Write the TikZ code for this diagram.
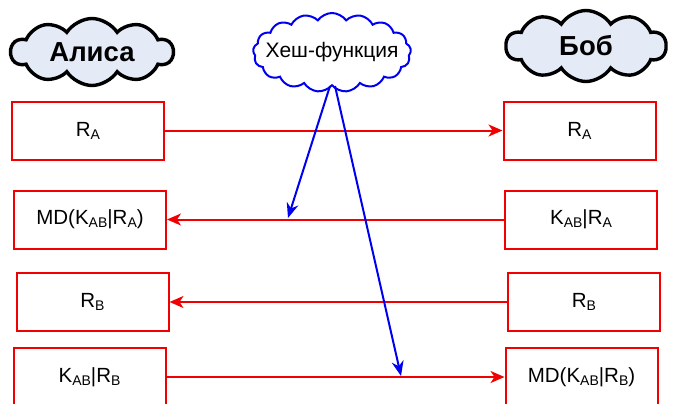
\documentclass[tikz,border=0pt]{standalone}
\usepackage{fontspec}
\setmainfont{Liberation Sans}
\usetikzlibrary{shapes.symbols,arrows.meta}
\definecolor{cloudfill}{RGB}{228,234,246}
\definecolor{boxred}{RGB}{240,0,0}
\definecolor{hashblue}{RGB}{0,0,240}
\newcommand{\sbs}[1]{\raisebox{-0.28ex}{\fontsize{14}{14}\selectfont #1}}
\tikzset{
  msgbox/.style={draw=boxred, line width=2pt, fill=white, minimum width=152pt, minimum height=58pt, inner sep=0pt, font=\fontsize{20.5}{22}\selectfont},
  party/.style={cloud, cloud puffs=10, cloud puff arc=115, aspect=2.6, draw=black, line width=3.4pt, fill=cloudfill, inner sep=0pt, font=\fontsize{27.5}{28}\selectfont\bfseries},
  hashcloud/.style={cloud, cloud puffs=17, cloud puff arc=110, aspect=2.0, draw=hashblue, line width=2pt, fill=white, inner sep=0pt, font=\fontsize{21}{22}\selectfont},
  redarrow/.style={draw=boxred, line width=2pt, -{Stealth[length=14pt,width=12pt,inset=4pt]}},
  bluearrow/.style={draw=hashblue, line width=2pt, -{Stealth[length=15pt,width=12pt,inset=5pt]}}
}
\begin{document}
\begin{tikzpicture}[x=1pt,y=-1pt]
\useasboundingbox (0,0) rectangle (675,404);
\clip (0,0) rectangle (675,404);
% parties
\node[party, minimum width=162pt, minimum height=67pt] (alice) at (92,52) {\makebox[0pt]{Алиса}};
\node[party, minimum width=160pt, minimum height=71pt] (bob) at (586,46) {\makebox[0pt]{Боб}};
\node[hashcloud, minimum width=158pt, minimum height=79pt] (hash) at (332,52.5) {\makebox[0pt]{Хеш-функция}};
% boxes
\node[msgbox] (a1) at (88,130.5) {R\sbs{A}};
\node[msgbox] (b1) at (579.5,130.5) {R\sbs{A}};
\node[msgbox] (a2) at (90,219.5) {MD(K\sbs{AB}|R\sbs{A})};
\node[msgbox] (b2) at (581,219.5) {K\sbs{AB}|R\sbs{A}};
\node[msgbox] (a3) at (92.5,302) {R\sbs{B}};
\node[msgbox] (b3) at (584,302) {R\sbs{B}};
\node[msgbox] (a4) at (89.5,377) {K\sbs{AB}|R\sbs{B}};
\node[msgbox] (b4) at (581.5,377) {MD(K\sbs{AB}|R\sbs{B})};
% messages
\draw[redarrow] (a1.east) -- (b1.west);
\draw[redarrow] (b2.west) -- (a2.east);
\draw[redarrow] (b3.west) -- (a3.east);
\draw[redarrow] (a4.east) -- (b4.west);
% hash arrows
\coordinate (h1) at (330,86);
\coordinate (h2) at (335,86);
\coordinate (t1) at (288,218);
\coordinate (t2) at (401,376);
\draw[bluearrow] (h1) -- (t1);
\draw[bluearrow] (h2) -- (t2);
\end{tikzpicture}
\end{document}
